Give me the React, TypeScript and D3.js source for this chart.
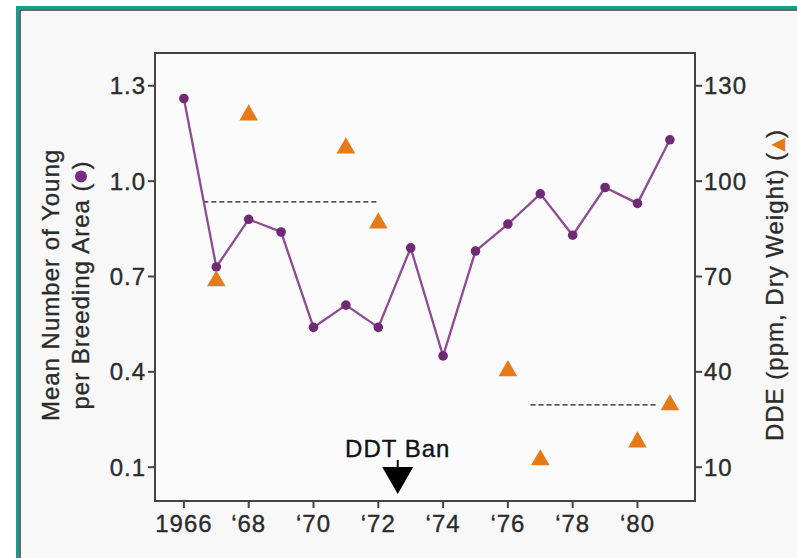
import React, { useLayoutEffect, useRef, useState } from "react";
import * as d3 from "d3";

const years = [1966, 1967, 1968, 1969, 1970, 1971, 1972, 1973, 1974, 1975, 1976, 1977, 1978, 1979, 1980, 1981];
const youngPerArea = [1.26, 0.73, 0.88, 0.84, 0.54, 0.61, 0.54, 0.79, 0.45, 0.78, 0.865, 0.96, 0.83, 0.98, 0.93, 1.13];
const ddeYears = [1967, 1968, 1971, 1972, 1976, 1977, 1980, 1981];
const ddeValues = [68.6, 120.8, 110.4, 86.8, 40.3, 12.3, 17.9, 29.6];
const xTicks = [1966, 1968, 1970, 1972, 1974, 1976, 1978, 1980];
const xTickLabels = ["1966", "‘68", "‘70", "‘72", "‘74", "‘76", "‘78", "‘80"];
const leftTicks = [0.1, 0.4, 0.7, 1.0, 1.3];
const leftTickLabels = ["0.1", "0.4", "0.7", "1.0", "1.3"];
const rightTicks = [10, 40, 70, 100, 130];
const rightTickLabels = ["10", "40", "70", "100", "130"];
// dashed mean lines: [startYear, endYear, value]
const youngMeanLine = [1966.6, 1971.95, 0.935];
const ddeMeanLine = [1976.7, 1980.6, 29.6];
const banYear = 1972.6;

const W = 797, H = 558;
const L = 155, R = 695, T = 53, B = 501;
const FONT = "'Liberation Sans', Arial, Helvetica, sans-serif";
const SYM = "'DejaVu Sans', sans-serif";
const TXT = "#2b2b2b";
const textProps = { fontFamily: FONT, fontSize: 24, letterSpacing: 1, fill: TXT, stroke: TXT, strokeWidth: 0.35 };
const LINE2 = "per Breeding Area (\u2002)";

export default function App() {
  const x = d3.scaleLinear().domain([1965.108, 1981.775]).range([L, R]);
  const yL = d3.scaleLinear().domain([0, 1.4]).range([499, 54]);
  const yR = d3.scaleLinear().domain([0, 140]).range([499, 54]);
  const line = d3.line<number>().x((_, i) => x(years[i])).y((v) => yL(v));
  const tri = d3.symbol().type(d3.symbolTriangle).size(150)();
  const bx = x(banYear);

  const ref = useRef<SVGTextElement>(null);
  const [dot, setDot] = useState<number | null>(null);
  useLayoutEffect(() => {
    const el = ref.current;
    if (!el) return;
    try {
      const idx = LINE2.indexOf("\u2002");
      const r = el.getExtentOfChar(idx);
      setDot(r.x + r.width / 2 - 0.5);
    } catch (e) {
      setDot(null);
    }
  }, []);

  return (
    <svg width={W} height={H} style={{ position: "absolute", left: 0, top: 0, background: "#fff" }}>
      <rect x={17.5} y={7.5} width={W} height={H} fill="#f8f8f8" stroke="#1a9a8e" strokeWidth={3} />
      <rect x={20} y={10} width={W} height={H} fill="none" stroke="#3a3a3a" strokeWidth={1.5} />
      <rect x={L} y={T} width={R - L} height={B - T} fill="#fbfbfb" stroke="#444" strokeWidth={2} />

      {/* left ticks */}
      {leftTicks.map((t, i) => (
        <g key={"l" + i}>
          <line x1={L - 7} x2={L} y1={yL(t)} y2={yL(t)} stroke="#444" strokeWidth={2} />
          <text x={L - 9} y={yL(t)} dy="0.36em" textAnchor="end" {...textProps}>
            {leftTickLabels[i]}
          </text>
        </g>
      ))}
      {/* right ticks */}
      {rightTicks.map((t, i) => (
        <g key={"r" + i}>
          <line x1={R} x2={R + 7} y1={yR(t)} y2={yR(t)} stroke="#444" strokeWidth={2} />
          <text x={R + 9} y={yR(t)} dy="0.36em" textAnchor="start" {...textProps}>
            {rightTickLabels[i]}
          </text>
        </g>
      ))}
      {/* bottom ticks */}
      {xTicks.map((t, i) => (
        <g key={"b" + i}>
          <line x1={x(t)} x2={x(t)} y1={B} y2={B + 7} stroke="#444" strokeWidth={2} />
          <text x={x(t)} y={B + 31} textAnchor="middle" {...textProps}>
            {xTickLabels[i]}
          </text>
        </g>
      ))}

      {/* axis titles */}
      <text transform="translate(59,285) rotate(-90)" textAnchor="middle" {...textProps}>
        Mean Number of Young
      </text>
      <g transform="translate(89,285) rotate(-90)">
        <text ref={ref} x={0} y={0} textAnchor="middle" {...textProps}>
          {LINE2}
        </text>
        {dot !== null && <circle cx={dot} cy={-8} r={6} fill="#7a2c80" />}
      </g>
      <text transform="translate(783,285) rotate(-90)" textAnchor="middle" {...textProps}>
        DDE (ppm, Dry Weight) (<tspan fill="#e67a18" stroke="none" fontFamily={SYM} fontSize={18} letterSpacing={0}>▲</tspan>)
      </text>

      {/* dashed mean lines */}
      <line x1={x(youngMeanLine[0])} x2={x(youngMeanLine[1])} y1={yL(youngMeanLine[2])} y2={yL(youngMeanLine[2])} stroke="#555" strokeWidth={1.8} strokeDasharray="5,3" />
      <line x1={x(ddeMeanLine[0])} x2={x(ddeMeanLine[1])} y1={yR(ddeMeanLine[2])} y2={yR(ddeMeanLine[2])} stroke="#555" strokeWidth={1.8} strokeDasharray="5,3" />

      {/* young line + points */}
      <path d={line(youngPerArea) || ""} fill="none" stroke="#8e4a94" strokeWidth={2.3} />
      {youngPerArea.map((v, i) => (
        <circle key={"c" + i} cx={x(years[i])} cy={yL(v)} r={4.8} fill="#6e2a74" />
      ))}

      {/* DDE triangles */}
      {ddeValues.map((v, i) => (
        <path key={"t" + i} d={tri || ""} transform={`translate(${x(ddeYears[i])},${yR(v)})`} fill="#e67a18" />
      ))}

      {/* DDT Ban annotation */}
      <text x={bx} y={457} textAnchor="middle" {...textProps} fill="#111" stroke="#111">
        DDT Ban
      </text>
      <line x1={bx} x2={bx} y1={460} y2={470} stroke="#000" strokeWidth={2} />
      <path d={`M${bx - 15.5},467 L${bx + 15.5},467 L${bx},494 Z`} fill="#000" />
    </svg>
  );
}
